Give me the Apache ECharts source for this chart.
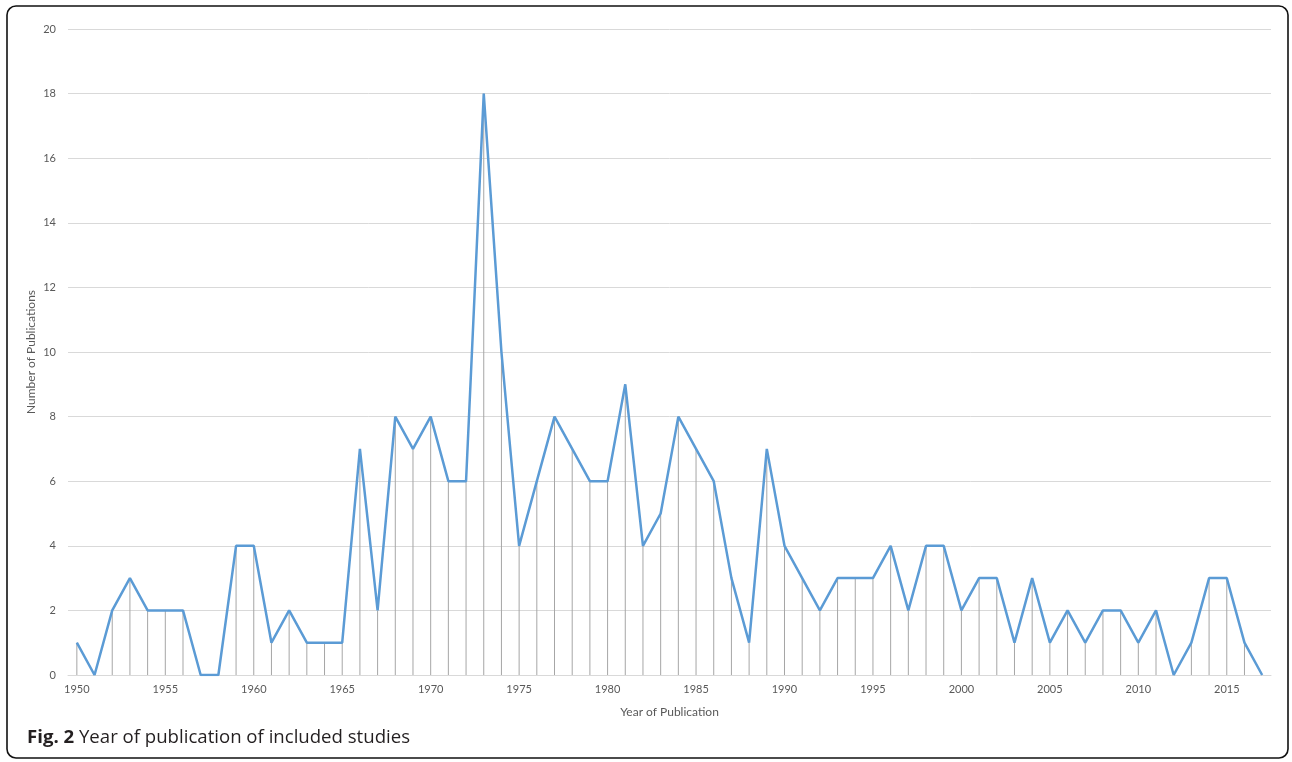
<!DOCTYPE html>
<html>
<head>
<meta charset="utf-8">
<script src="https://cdn.jsdelivr.net/npm/echarts@6/dist/echarts.min.js"></script>
<style>
html,body{margin:0;padding:0;background:#fff;}
#c{width:1292px;height:762px;}
</style>
</head>
<body>
<div id="c"></div>
<script>
const years = [];
for (let y = 1950; y <= 2017; y++) years.push(String(y));
const publications = [
  1, 0, 2, 3, 2, 2, 2, 0, 0, 4,
  4, 1, 2, 1, 1, 1, 7, 2, 8, 7,
  8, 6, 6, 18, 10, 4, 6, 8, 7, 6,
  6, 9, 4, 5, 8, 7, 6, 3, 1, 7,
  4, 3, 2, 3, 3, 3, 4, 2, 4, 4,
  2, 3, 3, 1, 3, 1, 2, 1, 2, 2,
  1, 2, 0, 1, 3, 3, 1, 0
];
const yTicks = { min: 0, max: 20, interval: 2 };
const captionBold = 'Fig. 2';
const captionText = ' Year of publication of included studies';

const chart = echarts.init(document.getElementById('c'));
chart.setOption({
  animation: false,
  backgroundColor: '#fff',
  textStyle: { fontFamily: 'Lato, "Open Sans", sans-serif' },
  grid: { left: 68, right: 21, top: 29, bottom: 87 },
  title: {
    left: 22, top: 723,
    text: '{b|' + captionBold + '}{n|' + captionText + '}',
    textStyle: {
      fontWeight: 'normal',
      rich: {
        b: { fontFamily: '"Open Sans", sans-serif', fontWeight: 'bold', fontSize: 18.6, color: '#231f20' },
        n: { fontFamily: '"Open Sans", sans-serif', fontWeight: 'normal', fontSize: 18.6, color: '#231f20' }
      }
    }
  },
  graphic: [{
    type: 'rect', silent: true,
    shape: { x: 7, y: 6, width: 1281, height: 752, r: 9 },
    style: { fill: 'none', stroke: '#111', lineWidth: 1.6 }
  }],
  xAxis: {
    type: 'category',
    data: years,
    boundaryGap: true,
    name: 'Year of Publication',
    nameLocation: 'middle',
    nameGap: 31,
    nameMoveOverlap: false,
    nameTextStyle: { color: '#595959', fontSize: 12 },
    axisLine: { lineStyle: { color: '#d9d9d9', width: 1 } },
    axisTick: { show: false },
    axisLabel: { interval: 4, color: '#595959', fontSize: 11, margin: 9 },
    splitLine: { show: false }
  },
  yAxis: {
    type: 'value',
    min: yTicks.min, max: yTicks.max, interval: yTicks.interval,
    name: 'Number of Publications',
    nameLocation: 'middle',
    nameGap: 31,
    nameMoveOverlap: false,
    nameTextStyle: { color: '#595959', fontSize: 12 },
    axisLine: { show: false },
    axisTick: { show: false },
    axisLabel: { color: '#595959', fontSize: 11, margin: 12 },
    splitLine: { lineStyle: { color: '#d9d9d9', width: 1 } }
  },
  series: [
    {
      type: 'bar',
      data: publications,
      barWidth: 1,
      itemStyle: { color: '#a6a6a6' },
      z: 2
    },
    {
      type: 'line',
      data: publications,
      symbol: 'none',
      lineStyle: { color: '#5b9bd5', width: 2.5 },
      z: 3
    }
  ]
});
</script>
</body>
</html>
